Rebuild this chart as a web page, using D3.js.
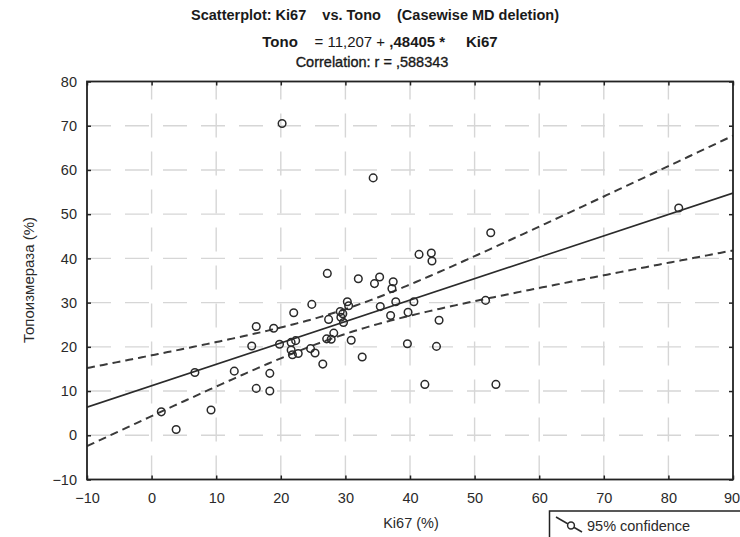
<!DOCTYPE html>
<html>
<head>
<meta charset="utf-8">
<script src="https://cdn.jsdelivr.net/npm/d3@7"></script>
<style>
  html, body { margin: 0; padding: 0; background: #fff; }
  svg { display: block; font-family: Arial, "Liberation Sans", sans-serif; }
</style>
</head>
<body>
<svg id="chart" width="740" height="537"></svg>
<script>
// Ki67 (%) per case
const ki67 = [1.5, 3.8, 6.7, 9.2, 12.8, 15.5, 16.2, 16.2, 18.3, 18.3,
  18.9, 19.8, 20.2, 21.6, 22.3, 21.6, 21.8, 22.7, 22.0, 24.6,
  24.8, 25.3, 26.5, 27.2, 27.4, 27.1, 27.8, 28.2, 29.2, 29.6,
  29.3, 29.7, 30.3, 30.5, 30.9, 32.0, 32.6, 34.3, 34.5, 35.3,
  35.4, 37.4, 37.2, 37.8, 37.0, 39.6, 39.7, 40.6, 41.4, 42.3,
  43.3, 43.4, 44.1, 44.5, 51.7, 52.5, 53.3, 81.6];
// Топоизмераза (%) per case, same order
const topo = [5.3, 1.3, 14.2, 5.7, 14.5, 20.2, 24.6, 10.6, 14.0, 10.0,
  24.2, 20.6, 70.5, 21.0, 21.4, 19.3, 18.2, 18.5, 27.7, 19.6,
  29.6, 18.6, 16.1, 36.6, 26.2, 21.8, 21.7, 23.1, 28.0, 27.5,
  26.7, 25.5, 30.2, 29.3, 21.5, 35.4, 17.7, 58.2, 34.3, 35.8,
  29.1, 34.7, 33.2, 30.2, 27.1, 20.7, 27.8, 30.2, 40.9, 11.5,
  41.2, 39.4, 20.1, 26.0, 30.5, 45.8, 11.5, 51.4];

// fitted line as reported in the header
const intercept = 11.207;
const slope = 0.48405;
const rValue = ",588343";

const xTicks = [-10, 0, 10, 20, 30, 40, 50, 60, 70, 80, 90];
const yTicks = [-10, 0, 10, 20, 30, 40, 50, 60, 70, 80];

const svg = d3.select("#chart");
const plotLeft = 87, plotRight = 733, plotTop = 81.5, plotBottom = 479.5;

const x = d3.scaleLinear().domain([-10, 90]).range([plotLeft, plotRight]);
const y = d3.scaleLinear().domain([-10, 80]).range([plotBottom, plotTop]);

// header
const header = svg.append("g").attr("fill", "#1a1a1a");
header.append("text").attr("x", 375).attr("y", 20).attr("text-anchor", "middle")
  .attr("font-size", 14.5).attr("font-weight", "bold").attr("xml:space", "preserve")
  .text("Scatterplot: Ki67    vs. Tono    (Casewise MD deletion)");
const line2 = header.append("text").attr("x", 380).attr("y", 46.5).attr("text-anchor", "middle")
  .attr("font-size", 15).attr("xml:space", "preserve");
line2.append("tspan").attr("font-weight", "bold").text("Tono");
line2.append("tspan").text("    = 11,207 + ");
line2.append("tspan").attr("font-weight", "bold").text(",48405 *     Ki67");
header.append("text").attr("x", 372).attr("y", 67).attr("text-anchor", "middle")
  .attr("font-size", 14.5).attr("stroke", "#1a1a1a").attr("stroke-width", 0.35)
  .text("Correlation: r = " + rValue);

// grid
const grid = svg.append("g").attr("stroke", "#d6d6d6").attr("stroke-width", 1.4)
  .attr("stroke-dasharray", "24,14");
grid.selectAll("line.v").data(xTicks.slice(1, -1)).join("line").attr("class", "v")
  .attr("x1", d => x(d)).attr("x2", d => x(d)).attr("y1", plotBottom).attr("y2", plotTop);
grid.selectAll("line.h").data(yTicks.slice(1, -1)).join("line").attr("class", "h")
  .attr("y1", d => y(d)).attr("y2", d => y(d)).attr("x1", plotLeft).attr("x2", plotRight);

// confidence band for the mean response, from the case data
const n = ki67.length;
const xMean = d3.mean(ki67);
const sxx = d3.sum(ki67, v => (v - xMean) ** 2);
const sse = d3.sum(ki67, (v, i) => (topo[i] - (intercept + slope * v)) ** 2);
const s = Math.sqrt(sse / (n - 2));
const tCrit = 2.003;
const xs = d3.range(-10, 90.01, 0.5);
const half = v => tCrit * s * Math.sqrt(1 / n + (v - xMean) ** 2 / sxx);

svg.append("clipPath").attr("id", "plotClip").append("rect")
  .attr("x", plotLeft).attr("y", plotTop).attr("width", plotRight - plotLeft).attr("height", plotBottom - plotTop);
const plot = svg.append("g").attr("clip-path", "url(#plotClip)");

const lineGen = d3.line().x(d => x(d[0])).y(d => y(d[1]));
plot.append("path")
  .attr("d", lineGen([[-10, intercept + slope * -10], [90, intercept + slope * 90]]))
  .attr("fill", "none").attr("stroke", "#2b2b2b").attr("stroke-width", 1.6);
[1, -1].forEach(sign => {
  plot.append("path")
    .attr("d", lineGen(xs.map(v => [v, intercept + slope * v + sign * half(v)])))
    .attr("fill", "none").attr("stroke", "#3a3a3a").attr("stroke-width", 2)
    .attr("stroke-dasharray", "8,5");
});

// cases
plot.selectAll("circle").data(ki67).join("circle")
  .attr("cx", d => x(d)).attr("cy", (d, i) => y(topo[i])).attr("r", 3.8)
  .attr("fill", "none").attr("stroke", "#2a2a2a").attr("stroke-width", 1.5);

// axes (ticks point inward on all four sides)
const axisStyle = g => {
  g.select(".domain").remove();
  g.selectAll(".tick line").attr("stroke", "#222").attr("stroke-width", 1.5);
  g.selectAll(".tick text").attr("fill", "#2a2a2a").attr("font-size", 14.5)
    .attr("font-family", "Arial, 'Liberation Sans', sans-serif");
};
const xAxisG = svg.append("g").attr("transform", `translate(0,${plotBottom})`)
  .call(d3.axisBottom(x).tickValues(xTicks).tickSize(-4).tickPadding(13).tickFormat(d3.format("d")))
  .call(axisStyle);
// keep the last label inside the page edge
xAxisG.selectAll(".tick text").filter(d => d === xTicks[xTicks.length - 1]).attr("dx", -1.5);
svg.append("g").attr("transform", `translate(${plotLeft},0)`)
  .call(d3.axisLeft(y).tickValues(yTicks).tickSize(-4).tickPadding(10).tickFormat(d3.format("d")))
  .call(axisStyle);
svg.append("g").attr("transform", `translate(0,${plotTop})`)
  .call(d3.axisTop(x).tickValues(xTicks).tickSize(-4).tickFormat(""))
  .call(axisStyle);
svg.append("g").attr("transform", `translate(${plotRight},0)`)
  .call(d3.axisRight(y).tickValues(yTicks).tickSize(-4).tickFormat(""))
  .call(axisStyle);

svg.append("rect").attr("x", plotLeft).attr("y", plotTop)
  .attr("width", plotRight - plotLeft).attr("height", plotBottom - plotTop)
  .attr("fill", "none").attr("stroke", "#222").attr("stroke-width", 1.8);

// axis titles
svg.append("text").attr("x", 411).attr("y", 528).attr("text-anchor", "middle")
  .attr("font-size", 14.5).attr("fill", "#2a2a2a").text("Ki67 (%)");
svg.append("text").attr("transform", "translate(34,280) rotate(-90)").attr("text-anchor", "middle")
  .attr("font-size", 15).attr("fill", "#2a2a2a").text("Топоизмераза (%)");

// legend
const legend = svg.append("g");
legend.append("rect").attr("x", 549.5).attr("y", 511).attr("width", 200).attr("height", 40)
  .attr("fill", "#fff").attr("stroke", "#222").attr("stroke-width", 1.5);
legend.append("line").attr("x1", 556).attr("y1", 517).attr("x2", 582).attr("y2", 532)
  .attr("stroke", "#2a2a2a").attr("stroke-width", 1.5);
legend.append("circle").attr("cx", 571).attr("cy", 525.5).attr("r", 3.4)
  .attr("fill", "#fff").attr("stroke", "#2a2a2a").attr("stroke-width", 1.5);
legend.append("text").attr("x", 587).attr("y", 531).attr("font-size", 14.5).attr("fill", "#2a2a2a")
  .text("95% confidence");
</script>
</body>
</html>
